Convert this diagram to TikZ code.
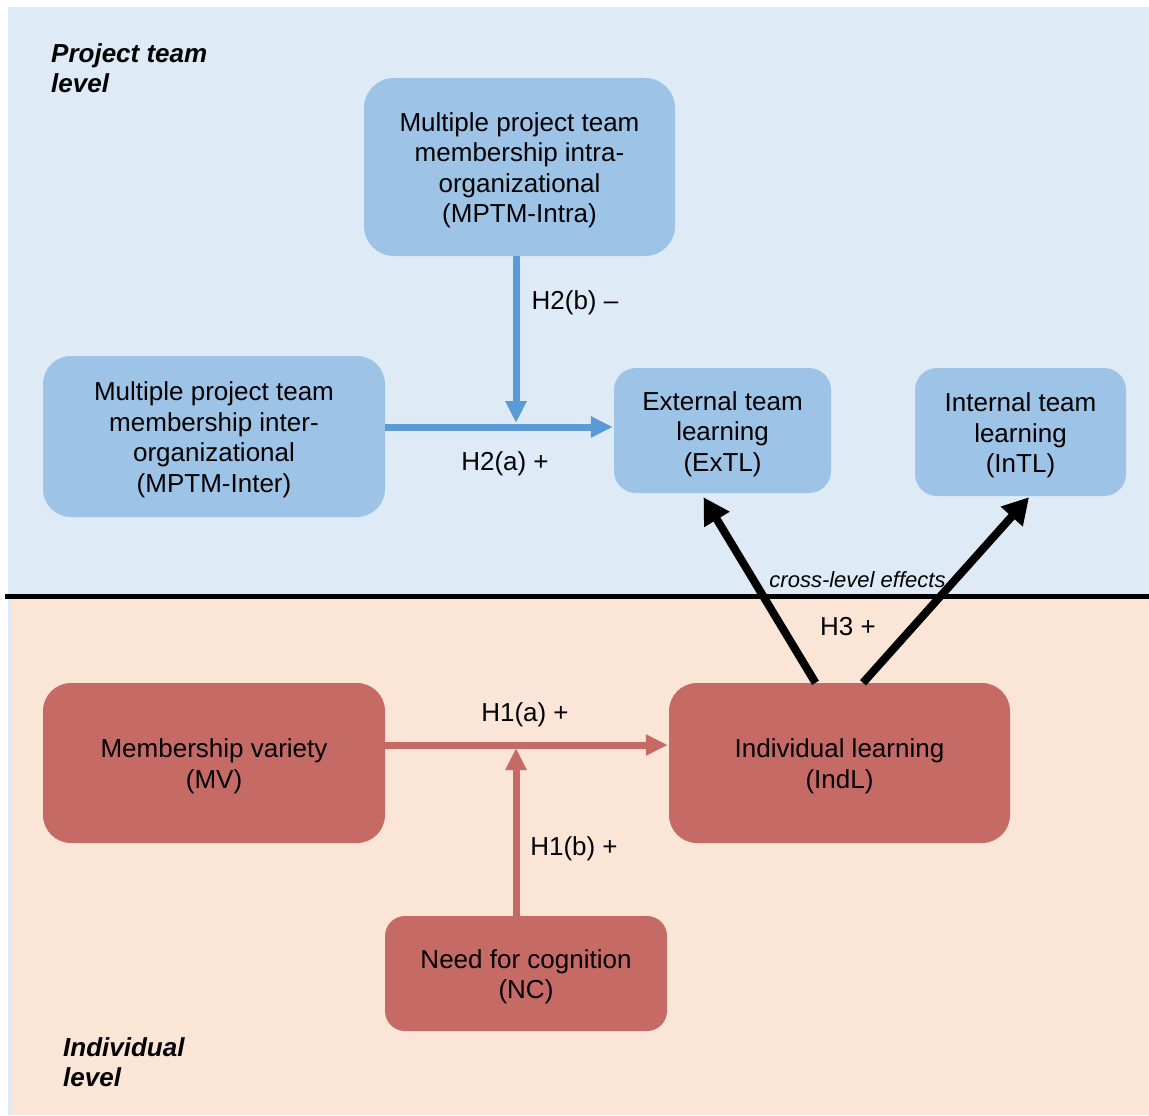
\documentclass[tikz,border=0pt]{standalone}
\usepackage{fontspec}
\setmainfont{Liberation Sans}
\usetikzlibrary{arrows.meta,calc}
\definecolor{bgblue}{RGB}{222,234,246}
\definecolor{bgpink}{RGB}{251,229,215}
\definecolor{nodeblue}{RGB}{157,195,230}
\definecolor{arrblue}{RGB}{91,155,213}
\definecolor{nodered}{RGB}{197,106,101}
\begin{document}
\begin{tikzpicture}[x=1pt,y=-1pt,
  nodetext/.style={font=\fontsize{26}{30.5}\selectfont, align=center, inner sep=0pt, yshift=-3.5pt},
  box/.style={rounded corners=#1, inner sep=0pt},
  bluebox/.style={box=#1, fill=nodeblue},
  redbox/.style={box=#1, fill=nodered},
  lbl/.style={font=\fontsize{26}{30.5}\selectfont, inner sep=0pt},
  lvl/.style={font=\fontsize{26}{30}\selectfont\bfseries\itshape, align=left, anchor=west, inner sep=0pt},
  bluearr/.style={draw=arrblue, line width=7pt, -{Triangle[length=22pt,width=20pt]}},
  redarr/.style={draw=nodered, line width=7pt, -{Triangle[length=22pt,width=20pt]}},
  blackarr/.style={draw=black, line width=8pt, -{Triangle[length=26pt,width=28pt]}}
]
\useasboundingbox (0,0) rectangle (1149,1116);
\fill[white] (0,0) rectangle (1149,1116);
\fill[bgblue] (8,7) rectangle (1149,1115);
\fill[bgpink] (11,596) rectangle (1149,1115);
\draw[line width=5pt] (5,596) -- (1149,596);

\node[lvl] (ptl) at (51,68) {Project team\\level};
\node[lvl] (il) at (63,1062) {Individual\\level};

\node[bluebox=30pt, minimum width=311pt, minimum height=178pt,
  label={[nodetext]center:Multiple project team\\membership intra-\\organizational\\(MPTM-Intra)}] (intra) at (519.5,167) {};
\node[bluebox=28pt, minimum width=342pt, minimum height=161pt,
  label={[nodetext]center:Multiple project team\\membership inter-\\organizational\\(MPTM-Inter)}] (inter) at (214,436.5) {};
\node[bluebox=22pt, minimum width=217pt, minimum height=125pt,
  label={[nodetext]center:External team\\learning\\(ExTL)}] (extl) at (722.5,430.5) {};
\node[bluebox=22pt, minimum width=211pt, minimum height=128pt,
  label={[nodetext]center:Internal team\\learning\\(InTL)}] (intl) at (1020.5,432) {};
\node[redbox=28pt, minimum width=342pt, minimum height=160pt,
  label={[nodetext]center:Membership variety\\(MV)}] (mv) at (214,763) {};
\node[redbox=28pt, minimum width=341pt, minimum height=160pt,
  label={[nodetext]center:Individual learning\\(IndL)}] (indl) at (839.5,763) {};
\node[redbox=20pt, minimum width=282pt, minimum height=115pt,
  label={[nodetext]center:Need for cognition\\(NC)}] (nc) at (526,973.5) {};

\coordinate (j2) at (516,427);
\coordinate (j2t) at (516,423);
\coordinate (j1) at (516,745);
\coordinate (j1t) at (516,748);

\draw[bluearr] (inter.east |- j2) -- ([xshift=-1pt]extl.west |- j2);
\draw[bluearr] (intra.south -| j2) -- (j2t);
\draw[redarr] (mv.east |- j1) -- ([xshift=-1pt]indl.west |- j1);
\draw[redarr] (nc.north -| j1) -- (j1t);

\draw[blackarr] ([xshift=-24pt]indl.north) -- ([xshift=-19pt,yshift=-4pt]extl.south);
\draw[blackarr] ([xshift=23.5pt]indl.north) -- ([xshift=8.5pt,yshift=-1pt]intl.south);

\node[lbl] (h2b) at (575,303) {H2(b) –};
\node[lbl] (h2a) at (505,464) {H2(a) +};
\node[font=\fontsize{22}{26}\selectfont\itshape, inner sep=0pt] (cle) at (857.5,580) {cross-level effects};
\node[lbl] (h3) at (848,627) {H3 +};
\node[lbl] (h1a) at (525,715) {H1(a) +};
\node[lbl] (h1b) at (574,849) {H1(b) +};
\end{tikzpicture}
\end{document}
